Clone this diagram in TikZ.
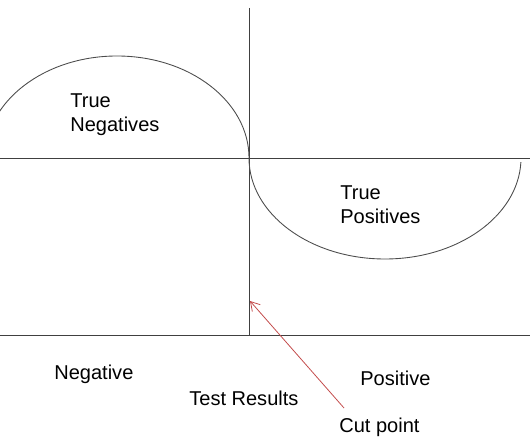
\documentclass[tikz,border=0pt]{standalone}
\usepackage{fontspec}
\setmainfont{Liberation Sans}
\usepackage{tikz}
\usetikzlibrary{arrows.meta}

\definecolor{cutred}{RGB}{195,75,75}
\tikzset{
	axis/.style={line width=0.5pt, black!75},
	curve/.style={line width=0.5pt, black!70},
	lbl/.style={inner sep=0pt, align=left, font=\fontsize{11.4}{13.8}\selectfont},
}

\begin{document}
\begin{tikzpicture}
	\useasboundingbox (0,0) rectangle (10.6,8.84);
	\clip (0,0) rectangle (10.6,8.84);
	
	% axes
	\coordinate (top) at (4.98,8.68);
	\coordinate (foot) at (4.98,2.14);
	\coordinate (cut) at (5.00,2.82);
	\draw[axis] (top) -- (foot);
	\draw[axis] (0,5.68) -- (10.6,5.68);
	\draw[axis] (0,2.14) -- (10.6,2.14);
	
	% the two distributions
	\draw[curve] (4.98,5.68) arc[start angle=0, end angle=180, x radius=2.64, y radius=2.04];
	\draw[curve] (4.98,5.68) arc[start angle=180, end angle=357.7, x radius=2.72, y radius=2.02];
	
	\node[lbl, anchor=north west] (tn) at (1.40,6.98) {True\\Negatives};
	\node[lbl, anchor=north west] (tp) at (6.80,5.14) {True\\Positives};
	
	% test results
	\node[lbl, anchor=base west] (neg) at (1.08,1.24) {Negative};
	\node[lbl, anchor=base west] (res) at (3.78,0.72) {Test Results};
	\node[lbl, anchor=base west] (pos) at (7.20,1.13) {Positive};
	\node[lbl, anchor=base west] (cutlbl) at (6.78,0.18) {Cut point};
	
	\coordinate (tail) at (6.88,0.68);
	\draw[-{Straight Barb[length=5pt, width=6pt]}, cutred, line width=0.45pt] (tail) -- (cut);
\end{tikzpicture}
\end{document}
